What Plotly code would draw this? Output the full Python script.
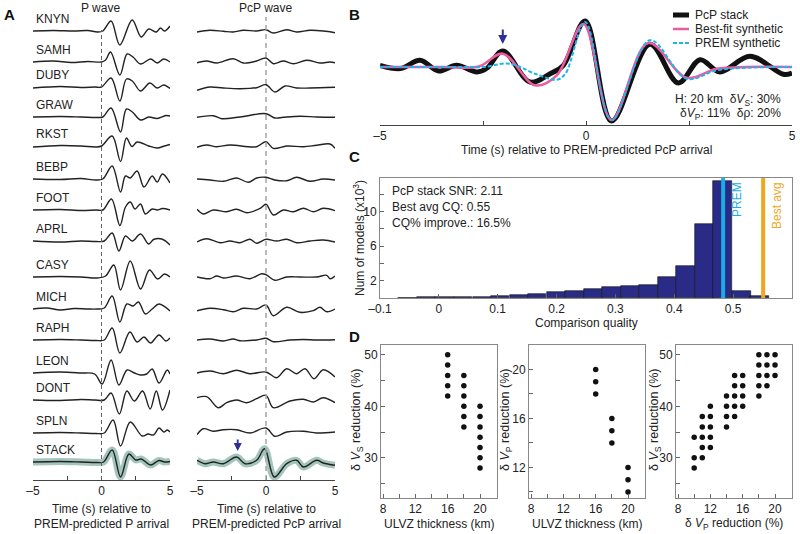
import plotly.graph_objects as go

W, H = 800, 534

# ---------------- data ----------------
stations = ["KNYN", "SAMH", "DUBY", "GRAW", "RKST", "BEBP", "FOOT", "APRL",
            "CASY", "MICH", "RAPH", "LEON", "DONT", "SPLN", "STACK"]

# P wave knots (time s, amplitude)
knyn_p_t = [-5, -3.5, -2, -1, -0.3, 0.1, 0.7, 1.34, 2.24, 2.9, 3.45, 4.0, 4.3, 4.6, 5.0]
knyn_p = [0, 0.5, 0, 0.5, -1, 0, 10, -14, 11, -6, 2, -1, 3, 0, 5]
samh_p_t = [-5, -3.5, -2.2, -1, 0, 0.3, 0.66, 1.34, 1.87, 2.3, 2.85, 3.58, 4.06, 4.55, 5.0]
samh_p = [0, 1, -0.5, 0.5, 0, 2, 10, -13, 8, 5, -2, 3, -1, 3, 0]
duby_p_t = [-5, -3, -1.5, -0.5, 0, 0.7, 1.34, 1.82, 2.25, 2.85, 3.53, 4.06, 4.55, 5.0]
duby_p = [-1, 0.5, -0.5, 0, 0, 9, -14, 8, 6, -4, 4, -1, 2, -1.5]
graw_p_t = [-5, -3, -1.5, -0.3, 0.1, 0.7, 1.39, 1.82, 2.25, 2.85, 3.45, 4.06, 4.7, 5.0]
graw_p = [0, 0.5, 0, -0.5, 0, 9, -15, 8, 5, -3, 0, -1.5, 1.5, 1]
rkst_p_t = [-5, -3, -1.5, -0.4, 0, 0.78, 1.39, 1.82, 2.22, 2.6, 3.45, 4.06, 4.6, 5.0]
rkst_p = [-1, 0.5, 0, -1, 0, 10, -15.5, 8, -0.5, 4, 0, -2, 0, 1.5]
bebp_p_t = [-5, -3, -1.5, -0.4, 0.1, 0.78, 1.39, 1.75, 2.1, 2.6, 3.1, 3.7, 4.06, 4.45, 5.0]
bebp_p = [0, -0.5, 0.5, -1, 0, 13, -13, 3, 1, 8, -8, 3, -3, 5, -4]
foot_p_t = [-5, -3, -1.5, -0.4, 0.1, 0.73, 1.34, 1.75, 2.1, 2.45, 2.85, 3.2, 3.7, 4.06, 4.45, 5.0]
foot_p = [0, 0.5, -0.5, 0, 0, 11, -15.5, 3, 8, 1, 6, -4, 1, 0, 1.5, 0]
aprl_p_t = [-5, -3, -1.5, -0.4, 0.2, 0.78, 1.27, 1.75, 2.25, 2.85, 3.45, 3.8, 4.4, 5.0]
aprl_p = [0, -1, 0, -0.5, 0, 8, -10, 5, 0, 7, -3, 1.5, 2, -4]
casy_p_t = [-5, -3, -1.5, -0.3, 0.3, 0.9, 1.39, 2.1, 2.85, 3.5, 4.1, 4.6, 5.0]
casy_p = [0, 0.5, 0, -1, 1, 12, -13, 16, -12, 7, -2, 3, 0]
mich_p_t = [-5, -4, -3, -2, -1, -0.3, 0.2, 0.78, 1.34, 1.85, 2.3, 2.7, 3.2, 3.7, 4.2, 5.0]
mich_p = [0, 1, -1, 0.5, 0, 0, 1, 13, -13, 5, 3, 7, -5, 0, 5, -2]
raph_p_t = [-5, -3, -1.5, -0.4, 0.2, 0.78, 1.34, 2.07, 2.6, 3.1, 3.58, 4.2, 4.7, 5.0]
raph_p = [0, 0.5, 0, -0.5, 0, 12, -13, 8, -2, 3, -3, 5, -1, 2]
leon_p_t = [-5, -3, -1.5, -0.5, 0.05, 0.7, 1.27, 1.87, 2.4, 2.85, 3.3, 3.7, 4.2, 4.8, 5.0]
leon_p = [0, 1, 0, -1, -11, 13, -12, 3, 0, -2, -1, 4, -10, 3, -1]
dont_p_t = [-5, -3, -1.5, -0.5, 0.2, 0.7, 1.3, 1.85, 2.4, 3.0, 3.55, 4.0, 4.45, 5.0]
dont_p = [0, -0.5, 0.5, 0, 0, 7, -14, 9, -1, 9, -9, 9, -10, 10]
spln_p_t = [-5, -3, -1.5, -0.4, 0.2, 0.85, 1.39, 2.1, 2.97, 3.4, 3.8, 4.2, 4.55, 4.8, 5.0]
spln_p = [0, 0.5, 0, -0.5, 0, 13, -13, 11, -3, -1, -2, 5, 1, 3, 1]
stack_p_t = [-5, -3, -1.5, -0.3, 0.15, 0.78, 1.39, 2.0, 2.5, 2.9, 3.58, 4.2, 4.6, 5.0]
stack_p = [0, 0.5, 0, -0.5, 0, 12, -15, 8, 2, 3, -3, 1.5, 0, 0.5]

# PcP wave knots (time s, amplitude)
knyn_c_t = [-5, -4.06, -3.09, -2.37, -1.64, -0.68, 0, 0.53, 1.5, 2.22, 3.19, 4.15, 5.0]
knyn_c = [-1, 0.7, -0.3, -1, 0.7, 0, 1.3, -2, 1.3, -1, 0.7, 0, -1.7]
samh_c_t = [-5, -4.3, -3.57, -2.37, -1.64, -0.68, 0, 0.53, 1.26, 1.98, 2.95, 3.91, 4.64, 5.0]
samh_c = [-0.7, 1, -1, 3.3, -1, 1, 4, -1.7, 1, -1.7, 1.7, -1, 0, -0.7]
duby_c_t = [-5, -4.06, -3.09, -1.88, -0.68, 0, 0.65, 1.38, 2.22, 3.19, 5.0]
duby_c = [-3.3, 0, -1, -1.7, -0.7, 2.3, -5, 1, -1, -1, -0.3]
graw_c_t = [-5, -3.82, -3.21, -1.88, 0, 0.65, 1.26, 2.46, 3.67, 5.0]
graw_c = [-0.3, 1.3, -1.7, 0, 3.3, -1, -0.3, 0.7, 0, -0.3]
rkst_c_t = [-5, -4.3, -3.57, -2.61, -0.68, 0, 0.53, 1.5, 2.71, 3.67, 4.64, 5.0]
rkst_c = [-1.3, 1, -0.7, 1, -0.7, 4.3, -2.3, 0, -0.7, 0.7, 2, -2.3]
bebp_c_t = [-5, -4.06, -3.09, -2.13, -1.28, -0.68, 0, 0.65, 1.5, 2.22, 3.19, 4.15, 5.0]
bebp_c = [0, -1, -2.3, 1, -3.3, 1, 1.7, -1, -1.7, 1.7, -2.3, 0, -1]
foot_c_t = [-5, -4.54, -3.82, -2.85, -2.13, -1.4, -0.43, 0, 0.53, 1.26, 1.98, 2.71, 3.43, 4.15, 5.0]
foot_c = [0.7, -4, 0, -1.7, 0.7, -2.7, 1.7, 5.7, -5, 0, -1.7, 1.7, -1.7, 1.7, -0.7]
aprl_c_t = [-5, -4.3, -3.33, -2.61, -1.88, -1.16, -0.68, 0, 0.77, 1.5, 2.22, 3.19, 4.15, 5.0]
aprl_c = [-1, 2.3, -1.7, 0, -1.7, 1.7, -2.3, 1.7, 0, 1.7, -1.7, 0, 1, -1]
casy_c_t = [-5, -4.06, -3.57, -3.09, -2.13, -1.16, -0.31, 0, 0.65, 1.5, 2.46, 3.67, 4.4, 4.64, 5.0]
casy_c = [0, -1.7, 1, -1, 1, -1.7, 3.3, 2.3, -3.3, 0, 0, 0, 1.7, -1.7, 1]
mich_c_t = [-5, -4.06, -3.09, -2.37, -1.64, -0.68, 0, 0.53, 1.5, 2.46, 3.43, 3.91, 4.4, 5.0]
mich_c = [-1.7, 0.7, -0.7, -2.7, 0.7, 0, 4, -6.7, 1.7, -3.3, -1.7, 1.7, -2.7, 0]
raph_c_t = [-5, -4.06, -3.09, -2.37, -1.88, -0.68, 0, 0.53, 1.74, 2.7, 3.67, 5.0]
raph_c = [0, 1, -1, 1, -0.7, 0, 1.7, -1.7, 0, 0.5, 0, 0.3]
leon_c_t = [-5, -4.06, -3.09, -2.13, -1.16, 0, 0.77, 1.5, 2.22, 2.83, 3.48, 4.15, 5.0]
leon_c = [0, 2, -0.7, 2.7, -0.7, 1, -4.7, 4.3, -0.7, 4.3, -5.7, 3.3, -4]
dont_c_t = [-5, -4.3, -3.45, -2.85, -2.13, -1.4, -0.68, 0, 0.53, 1.74, 2.71, 3.43, 4.15, 5.0]
dont_c = [2.3, 3.3, -7.7, -2.7, 0, -2.7, 1.3, 4.7, -7.7, -1, 0.7, -2, 2.3, -2.7]
spln_c_t = [-5, -4.54, -3.82, -3.09, -2.13, -1.16, 0, 0.65, 1.5, 2.71, 3.67, 5.0]
spln_c = [-1.7, 4.3, 1.7, 3.3, 3.3, 0, 5, -3.3, 1, 1.7, 0, 1]
stack_c_t = [-5, -4.42, -3.82, -3.09, -2.13, -1.52, -0.68, -0.1, 0.6, 1.5, 2.22, 2.71, 3.67, 4.15, 5.0]
stack_c = [1.7, -1.7, 0, -1.7, 5, -1.7, 1.7, 13.3, -15, -1.7, 1.7, -5, 1.7, -1, -3.3]

p_waves = [(knyn_p_t, knyn_p), (samh_p_t, samh_p), (duby_p_t, duby_p), (graw_p_t, graw_p),
           (rkst_p_t, rkst_p), (bebp_p_t, bebp_p), (foot_p_t, foot_p), (aprl_p_t, aprl_p),
           (casy_p_t, casy_p), (mich_p_t, mich_p), (raph_p_t, raph_p), (leon_p_t, leon_p),
           (dont_p_t, dont_p), (spln_p_t, spln_p), (stack_p_t, stack_p)]
pcp_waves = [(knyn_c_t, knyn_c), (samh_c_t, samh_c), (duby_c_t, duby_c), (graw_c_t, graw_c),
             (rkst_c_t, rkst_c), (bebp_c_t, bebp_c), (foot_c_t, foot_c), (aprl_c_t, aprl_c),
             (casy_c_t, casy_c), (mich_c_t, mich_c), (raph_c_t, raph_c), (leon_c_t, leon_c),
             (dont_c_t, dont_c), (spln_c_t, spln_c), (stack_c_t, stack_c)]
arrow_t = -2.05

# panel B: stack vs synthetics
b_stack_t = [-5.0, -4.5, -4.03, -3.58, -3.14, -2.65, -2.4, -2.02, -1.36, -0.87, -0.55, -0.02, 0.62, 1.55, 2.24, 2.77, 3.25, 3.98, 4.79, 5.0]
b_stack = [1.7, -1.5, 6.7, -4, 1.7, -5, -1, 16, -15, -6.7, 1.7, 46, -54, 22.7, -16, 7.3, -5, 10.7, -7.3, -6]
b_best_t = [-5, -3.5, -2.6, -2.02, -1.24, -0.71, -0.06, 0.62, 1.51, 2.44, 3.17, 3.9, 5.0]
b_best = [0, 0, 0.5, 13.3, -18.3, -8.3, 43, -53, 24, -10.7, -1.7, 0, 0]
b_prem_t = [-5, -3, -2.5, -1.85, -1.2, -0.71, -0.5, -0.02, 0.62, 1.55, 2.44, 3.17, 3.9, 5.0]
b_prem = [0, 0, 0, 3.3, -7.3, -12.7, -6.7, 45, -53, 26.7, -11.7, -3.3, -0.7, 0]

# panel C: histogram of comparison quality
cq_centers = [-0.053, -0.022, 0.010, 0.041, 0.073, 0.104, 0.136, 0.167, 0.199, 0.230,
              0.262, 0.293, 0.325, 0.356, 0.388, 0.419, 0.451, 0.482, 0.514, 0.545]
cq_counts = [0.05, 0.06, 0.07, 0.08, 0.15, 0.23, 0.35, 0.46, 0.73, 0.85,
             1.1, 1.27, 1.35, 1.55, 2.4, 3.7, 8.6, 13.6, 0.85, 0.25]
prem_cq = 0.483
best_cq = 0.551

# panel D: accepted models
d1_thick = [16, 16, 16, 16, 16, 18, 18, 18, 18, 18, 18, 20, 20, 20, 20, 20, 20, 20]
d1_vs = [42, 44, 46, 48, 50, 36, 38, 40, 42, 44, 46, 28, 30, 32, 34, 36, 38, 40]
d2_thick = [16, 16, 16, 18, 18, 18, 20, 20, 20]
d2_vp = [18, 19, 20, 14, 15, 16, 10, 11, 12]
d3_vp = [10, 10, 10, 11, 11, 11, 11, 11, 12, 12, 12, 12, 12, 14, 14, 14, 14,
         15, 15, 15, 15, 15, 16, 16, 16, 16, 18, 18, 18, 18, 18, 19, 19, 19, 19, 20, 20, 20]
d3_vs = [28, 30, 34, 30, 32, 34, 36, 38, 32, 34, 36, 38, 40, 36, 38, 40, 42,
         38, 40, 42, 44, 46, 40, 42, 44, 46, 42, 44, 46, 48, 50, 44, 46, 48, 50, 46, 48, 50]

# ---------------- layout helpers ----------------
row_y = [31, 62, 87, 117, 146, 179, 210, 241, 277, 309, 340, 373, 400, 433, 462]
FONT = "Liberation Sans, Arial, sans-serif"
INK = "#222"
BAND = "#93bcb0"
NAVY = "#2e3192"


def px(x):
    return x / W


def py(y):
    return 1 - y / H


fig = go.Figure()

# panel A traces
for i, name in enumerate(stations):
    for (t, a), ax in ((p_waves[i], "1"), (pcp_waves[i], "2")):
        yy = [v - row_y[i] for v in a]
        xa = "x" if ax == "1" else "x2"
        ya = "y" if ax == "1" else "y2"
        if name == "STACK":
            fig.add_trace(go.Scatter(x=t, y=yy, mode="lines", xaxis=xa, yaxis=ya,
                                     line=dict(color=BAND, width=7, shape="spline"),
                                     opacity=0.85, showlegend=False, hoverinfo="skip"))
        fig.add_trace(go.Scatter(x=t, y=yy, mode="lines", xaxis=xa, yaxis=ya,
                                 line=dict(color=INK, width=1.4, shape="spline"),
                                 showlegend=False, name=name))

# panel B traces
fig.add_trace(go.Scatter(x=b_stack_t, y=b_stack, mode="lines", xaxis="x3", yaxis="y3",
                         line=dict(color="#111", width=5, shape="spline"), showlegend=False))
fig.add_trace(go.Scatter(x=b_best_t, y=b_best, mode="lines", xaxis="x3", yaxis="y3",
                         line=dict(color="#ec5aa0", width=2.5, shape="spline"), showlegend=False))
fig.add_trace(go.Scatter(x=b_prem_t, y=b_prem, mode="lines", xaxis="x3", yaxis="y3",
                         line=dict(color="#1db5ea", width=2, dash="4px,2px", shape="spline"),
                         showlegend=False))

# panel C
fig.add_trace(go.Bar(x=cq_centers, y=cq_counts, width=0.0315, xaxis="x4", yaxis="y4",
                     marker=dict(color="#2a2b86", line=dict(color="#111", width=0.6)),
                     showlegend=False))
fig.add_trace(go.Scatter(x=[prem_cq, prem_cq], y=[0, 13.9], mode="lines", xaxis="x4", yaxis="y4",
                         line=dict(color="#1aace3", width=4), showlegend=False))
fig.add_trace(go.Scatter(x=[best_cq, best_cq], y=[0, 13.9], mode="lines", xaxis="x4", yaxis="y4",
                         line=dict(color="#eea81f", width=4), showlegend=False))

# panel D
for xs, ys, k in ((d1_thick, d1_vs, "5"), (d2_thick, d2_vp, "6"), (d3_vp, d3_vs, "7")):
    fig.add_trace(go.Scatter(x=xs, y=ys, mode="markers", xaxis="x" + k, yaxis="y" + k,
                             marker=dict(color="#111", size=5.5), showlegend=False))

tickfont = dict(family=FONT, size=12, color=INK)
time_ticks = dict(tickvals=[-5, 0, 5], ticktext=["\u20135", "0", "5"],
                  minor=dict(tickvals=[-2.5, 2.5], ticks="inside", ticklen=4, tickcolor="#444"),
                  range=[-5, 5], showline=True, linecolor="#444", linewidth=1,
                  ticks="inside", ticklen=4, tickcolor="#444", showgrid=False,
                  zeroline=False, tickfont=tickfont)
box = dict(showline=True, mirror=True, linecolor="#888", linewidth=1, ticks="inside",
           ticklen=4, tickcolor="#666", showgrid=False, zeroline=False, tickfont=tickfont)
hidden = dict(visible=False, showgrid=False, zeroline=False)

lay = dict(
    width=W, height=H, margin=dict(l=0, r=0, t=0, b=0, autoexpand=False),
    paper_bgcolor="white", plot_bgcolor="rgba(0,0,0,0)",
    font=dict(family=FONT, size=12, color=INK), bargap=0,
    xaxis=dict(domain=[px(33), px(170)], anchor="y", **time_ticks),
    yaxis=dict(domain=[py(480), 1], range=[-480, 0], anchor="x", **hidden),
    xaxis2=dict(domain=[px(197), px(335)], anchor="y2", **time_ticks),
    yaxis2=dict(domain=[py(480), 1], range=[-480, 0], anchor="x2", **hidden),
    xaxis3=dict(domain=[px(380), px(792)], anchor="y3", **time_ticks),
    yaxis3=dict(domain=[py(125), py(5)], range=[-58, 62], anchor="x3", **hidden),
    xaxis4=dict(domain=[px(380), px(792)], anchor="y4", range=[-0.1, 0.6],
                tickvals=[-0.1, 0, 0.1, 0.2, 0.3, 0.4, 0.5, 0.6],
                ticktext=["\u20130.1", "0", "0.1", "0.2", "0.3", "0.4", "0.5", "0.6"], **box),
    yaxis4=dict(domain=[py(298), py(178)], anchor="x4", range=[0, 13.9],
                tickvals=[2, 6, 10], minor=dict(tickvals=[4, 8, 12], ticks="inside", ticklen=4,
                                                tickcolor="#666"), **box),
)
xd = dict(range=[7.75, 22.1], tickvals=[8, 12, 16, 20],
          minor=dict(tickvals=[10, 14, 18], ticks="inside", ticklen=4, tickcolor="#666"))
vs_ticks = dict(range=[22.2, 51.9], tickvals=[30, 40, 50],
                minor=dict(tickvals=[25, 35, 45], ticks="inside", ticklen=4, tickcolor="#666"))
vp_ticks = dict(range=[9.5, 22], tickvals=[12, 16, 20],
                minor=dict(tickvals=[10, 14, 18], ticks="inside", ticklen=4, tickcolor="#666"))
for k, (x0, x1), yt in (("5", (381, 497), vs_ticks), ("6", (529, 645), vp_ticks),
                        ("7", (676, 792), vs_ticks)):
    lay["xaxis" + k] = dict(domain=[px(x0), px(x1)], anchor="y" + k, **xd, **box)
    lay["yaxis" + k] = dict(domain=[py(498), py(345)], anchor="x" + k, **yt, **box)
fig.update_layout(**lay)

# dashed onset lines
fig.add_shape(type="line", xref="x", yref="y", x0=0, x1=0, y0=-480, y1=-30,
              line=dict(color="#666", width=1, dash="4px,3px"))
fig.add_shape(type="line", xref="x2", yref="y2", x0=0, x1=0, y0=-480, y1=-17,
              line=dict(color="#aaa", width=1.6, dash="5px,4px"))

anns = []


def ann(x, y, text, size=12, color=INK, xanchor="center", yanchor="middle", angle=0):
    anns.append(dict(x=px(x), y=py(y), xref="paper", yref="paper", text=text, showarrow=False,
                     font=dict(family=FONT, size=size, color=color), xanchor=xanchor,
                     yanchor=yanchor, textangle=angle))


for letter, x, y in (("A", 9, 15), ("B", 354, 15), ("C", 354, 157), ("D", 354, 336)):
    ann(x, y, "<b>" + letter + "</b>", size=15, color="#111")

ann(100, 8, "P wave")
ann(265, 8, "PcP wave")
for i, name in enumerate(stations):
    ann(34, row_y[i] - 12, name, xanchor="left")
ann(101, 509, "Time (s) relative to")
ann(101, 524, "PREM-predicted P arrival")
ann(266, 509, "Time (s) relative to")
ann(266, 524, "PREM-predicted PcP arrival")

# panel B legend and text
legend_rows = [("PcP stack", "#111", 5, "solid", 15), ("Best-fit synthetic", "#ec5aa0", 2.5, "solid", 29),
               ("PREM synthetic", "#1db5ea", 2, "4px,2px", 43)]
for label, col, wd, dash, yy in legend_rows:
    fig.add_shape(type="line", xref="paper", yref="paper", x0=px(673), x1=px(689), y0=py(yy), y1=py(yy),
                  line=dict(color=col, width=wd, dash=dash))
    ann(693, yy, label, xanchor="left")
ann(783, 100, "H: 20 km  \u03b4<i>V</i><sub>S</sub>: 30%", xanchor="right")
ann(783, 114, "\u03b4<i>V</i><sub>P</sub>: 11%  \u03b4\u03c1: 20%", xanchor="right")
ann(586, 150, "Time (s) relative to PREM-predicted PcP arrival")

# panel C text
ann(390, 191, "PcP stack SNR: 2.11", xanchor="left")
ann(390, 207, "Best avg CQ: 0.55", xanchor="left")
ann(390, 223, "CQ% improve.: 16.5%", xanchor="left")
ann(737, 200, "PREM", color="#1aace3", angle=-90)
ann(777, 206, "Best avg", color="#eea81f", angle=-90)
ann(359, 238, "Num of models (x10<sup>3</sup>)", angle=-90)
ann(586, 323, "Comparison quality")

# panel D titles
ann(357, 420, "\u03b4 <i>V</i><sub>S</sub> reduction (%)", size=12.5, angle=-90)
ann(506, 420, "\u03b4 <i>V</i><sub>P</sub> reduction (%)", size=12.5, angle=-90)
ann(655, 420, "\u03b4 <i>V</i><sub>S</sub> reduction (%)", size=12.5, angle=-90)
ann(439, 524, "ULVZ thickness (km)")
ann(587, 524, "ULVZ thickness (km)")
ann(734, 524, "\u03b4 <i>V</i><sub>P</sub> reduction (%)")

# arrows marking the precursor
anns.append(dict(x=arrow_t, y=-451, xref="x2", yref="y2", text="", showarrow=True, ax=0, ay=-13,
                 arrowhead=2, arrowsize=0.9, arrowwidth=1.8, arrowcolor=NAVY))
anns.append(dict(x=-2.02, y=23, xref="x3", yref="y3", text="", showarrow=True, ax=0, ay=-16,
                 arrowhead=2, arrowsize=0.9, arrowwidth=2, arrowcolor=NAVY))
fig.update_layout(annotations=anns)

# the page body has a default 8px margin; drop it so the figure sits at the corner
fig.write_html("out.html", config={"displayModeBar": False},
               post_script="document.body.style.margin='0px';")
